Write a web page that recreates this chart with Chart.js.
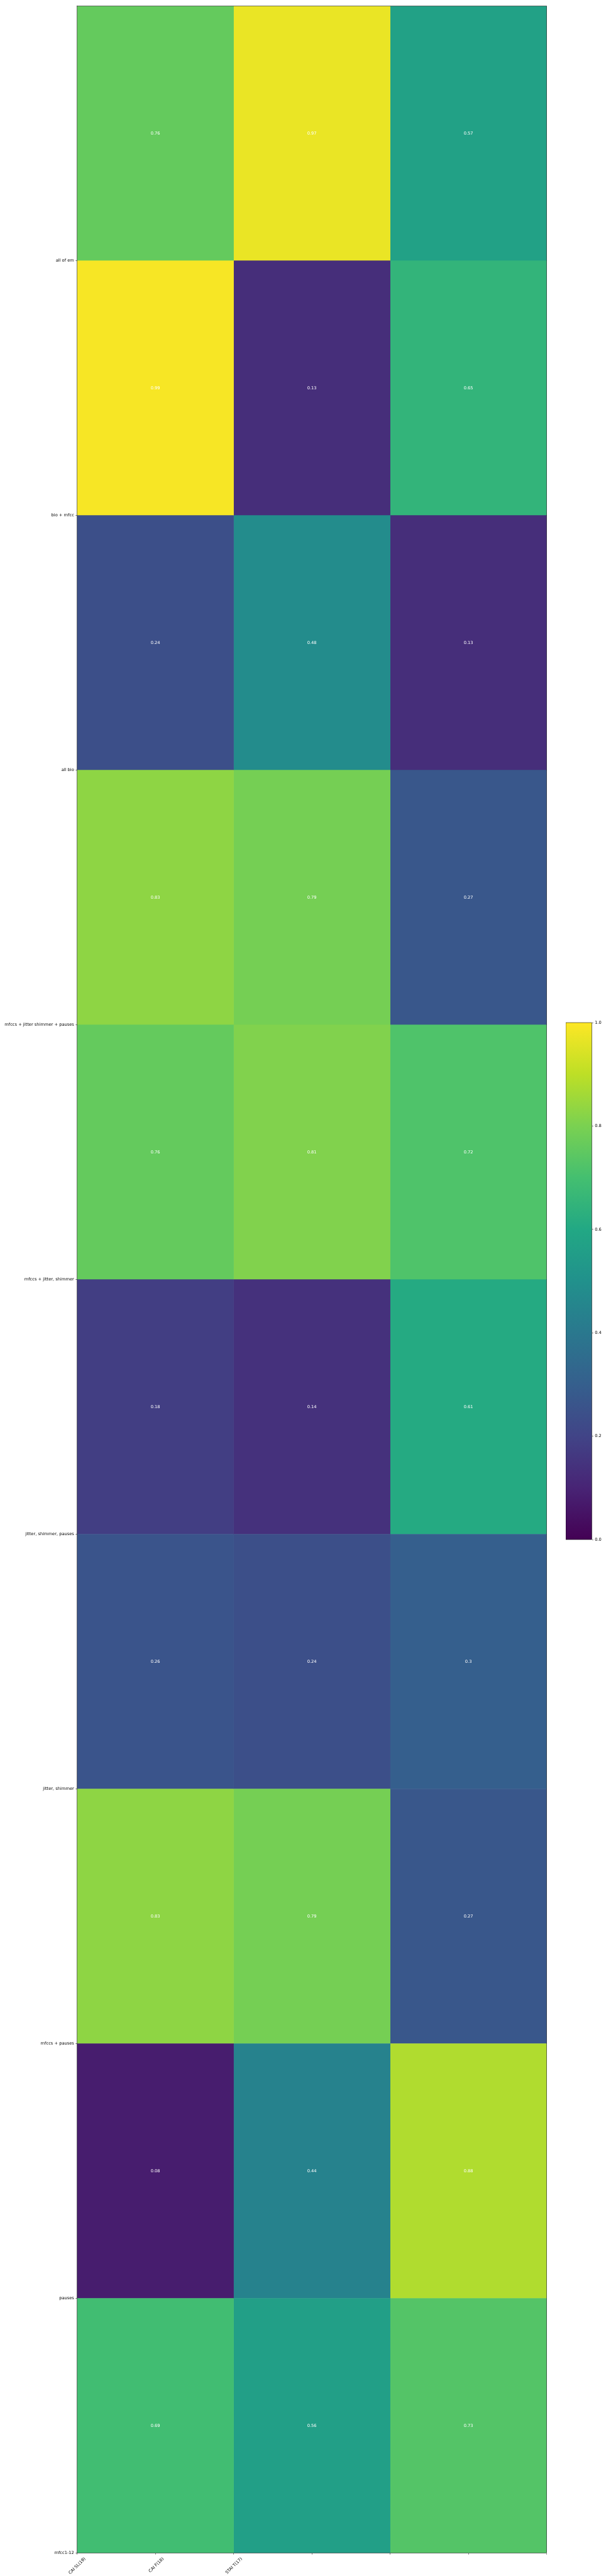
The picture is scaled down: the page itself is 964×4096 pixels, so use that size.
<!DOCTYPE html>
<html>
<head>
<meta charset="utf-8">
<script src="https://cdn.jsdelivr.net/npm/chart.js@4.4.1/dist/chart.umd.min.js"></script>
<style>
  html, body { margin: 0; padding: 0; background: #fff; }
  #wrap { position: relative; width: 964px; height: 4096px; overflow: hidden; }
  #main { position: absolute; left: 0; top: 0; }
  #cbar { position: absolute; left: 900px; top: 1618px; }
</style>
</head>
<body>
<div id="wrap">
  <canvas id="main" width="964" height="4096"></canvas>
  <canvas id="cbar" width="64" height="838"></canvas>
</div>
<script>
// ---------- data ----------
const yLabels = [
  'all of em',
  'bio + mfcc',
  'all bio',
  'mfccs + jitter shimmer + pauses',
  'mfccs + jitter, shimmer',
  'jitter, shimmer, pauses',
  'jitter, shimmer',
  'mfccs + pauses',
  'pauses',
  'mfcc1-12'
];
const xLabels = ['CAI SL(19)', 'CAI F(18)', 'STAI T(17)'];
const caiSL = [0.76, 0.99, 0.24, 0.83, 0.76, 0.18, 0.26, 0.83, 0.08, 0.69];
const caiF  = [0.97, 0.13, 0.48, 0.79, 0.81, 0.14, 0.24, 0.79, 0.44, 0.56];
const staiT = [0.57, 0.65, 0.13, 0.27, 0.72, 0.61, 0.3, 0.27, 0.88, 0.73];
const colorMin = 0;
const colorMax = 1;
const colorTicks = [0, 0.2, 0.4, 0.6, 0.8, 1.0];

// ---------- styling ----------
const S = 0.669;
const FONT = { family: 'DejaVu Sans', size: 10 * S };
const viridisStops = ['#440154', '#482475', '#414487', '#355f8d', '#2a788e', '#21918c',
                      '#22a884', '#44bf70', '#7ad151', '#bddf26', '#fde725'];
function hexToRgb(h) {
  return [parseInt(h.slice(1, 3), 16), parseInt(h.slice(3, 5), 16), parseInt(h.slice(5, 7), 16)];
}
function viridis(v) {
  let t = (v - colorMin) / (colorMax - colorMin);
  t = Math.max(0, Math.min(1, t));
  const n = viridisStops.length - 1;
  const p = t * n;
  const i = Math.min(Math.floor(p), n - 1);
  const f = p - i;
  const a = hexToRgb(viridisStops[i]), b = hexToRgb(viridisStops[i + 1]);
  const c = a.map((x, k) => Math.round(x + (b[k] - x) * f));
  return `rgb(${c[0]},${c[1]},${c[2]})`;
}

Chart.defaults.color = '#000';
Chart.defaults.font.family = FONT.family;
Chart.defaults.font.size = FONT.size;

const series = [caiSL, caiF, staiT];

const frame = {
  id: 'frame',
  afterDraw(chart) {
    const { ctx, chartArea: a } = chart;
    ctx.save();
    ctx.strokeStyle = '#000';
    ctx.lineWidth = 0.8 * S;
    ctx.strokeRect(a.left, a.top, a.right - a.left, a.bottom - a.top);
    ctx.restore();
  }
};

const cellLabels = {
  id: 'cellLabels',
  afterDatasetsDraw(chart) {
    const ctx = chart.ctx;
    ctx.save();
    ctx.font = `${FONT.size}px "${FONT.family}"`;
    ctx.fillStyle = '#fff';
    ctx.textAlign = 'center';
    ctx.textBaseline = 'middle';
    chart.data.datasets.forEach((ds, c) => {
      const meta = chart.getDatasetMeta(c);
      meta.data.forEach((bar, r) => {
        const p = bar.getProps(['x', 'y', 'base'], true);
        ctx.fillText(String(series[c][r]), (p.x + p.base) / 2, p.y);
      });
    });
    ctx.restore();
  }
};

const tickGrid = {
  drawOnChartArea: false,
  drawTicks: true,
  offset: false,
  tickLength: 3.5 * S,
  color: '#000',
  tickColor: '#000',
  lineWidth: 0.8 * S
};

new Chart(document.getElementById('main'), {
  type: 'bar',
  data: {
    datasets: series.map((vals, c) => ({
      label: xLabels[c],
      data: vals.map((v, r) => ({ y: r + 0.5, x: [c, c + 1] })),
      backgroundColor: vals.map(v => viridis(v)),
      borderWidth: 0,
      barThickness: 'flex',
      barPercentage: 1,
      categoryPercentage: 1
    }))
  },
  options: {
    indexAxis: 'y',
    responsive: false,
    animation: false,
    devicePixelRatio: 1,
    layout: { padding: { top: 9.6, right: 94.3, bottom: 0, left: 0 } },
    plugins: { legend: { display: false }, tooltip: { enabled: false } },
    scales: {
      x: {
        type: 'linear',
        position: 'bottom',
        min: 0,
        max: xLabels.length,
        offset: false,
        stacked: false,
        afterBuildTicks: s => {
          const t = [];
          for (let i = 0; i <= 2 * xLabels.length; i++) t.push({ value: i / 2 });
          s.ticks = t;
        },
        afterFit: s => { s.height = 36.5; },
        ticks: {
          autoSkip: false,
          minRotation: 45,
          maxRotation: 45,
          labelOffset: 12.7,
          padding: 2.9,
          color: '#000',
          font: FONT,
          callback: (v, i) => (i < xLabels.length ? xLabels[i] : '')
        },
        grid: tickGrid,
        border: { display: false }
      },
      y: {
        type: 'linear',
        position: 'left',
        min: 0,
        max: yLabels.length,
        offset: false,
        reverse: true,
        stacked: true,
        afterBuildTicks: s => { s.ticks = yLabels.map((_, i) => ({ value: i + 1 })); },
        afterFit: s => { s.width = 122.5; },
        ticks: {
          autoSkip: false,
          padding: 3.5 * S,
          color: '#000',
          font: FONT,
          callback: v => (yLabels[Math.round(v) - 1] ?? '')
        },
        grid: tickGrid,
        border: { display: false }
      }
    }
  },
  plugins: [cellLabels, frame]
});

// ---------- colorbar ----------
new Chart(document.getElementById('cbar'), {
  type: 'bar',
  data: {
    labels: [''],
    datasets: [{
      data: [[colorMin, colorMax]],
      backgroundColor: (c) => {
        const a = c.chart.chartArea;
        if (!a) return viridis((colorMin + colorMax) / 2);
        const g = c.chart.ctx.createLinearGradient(0, a.bottom, 0, a.top);
        viridisStops.forEach((col, i) => g.addColorStop(i / (viridisStops.length - 1), col));
        return g;
      },
      borderWidth: 0,
      barPercentage: 1,
      categoryPercentage: 1
    }]
  },
  options: {
    responsive: false,
    animation: false,
    devicePixelRatio: 1,
    layout: { padding: { top: 8, bottom: 8, left: 0, right: 0 } },
    plugins: { legend: { display: false }, tooltip: { enabled: false } },
    scales: {
      x: { display: false },
      y: {
        position: 'right',
        min: colorMin,
        max: colorMax,
        afterBuildTicks: s => { s.ticks = colorTicks.map(v => ({ value: v })); },
        afterFit: s => { s.width = 64 - 41.5; },
        ticks: {
          padding: 3.5 * S,
          color: '#000',
          font: FONT,
          callback: v => Number(v).toFixed(1)
        },
        grid: tickGrid,
        border: { display: false }
      }
    }
  },
  plugins: [frame]
});
</script>
</body>
</html>
